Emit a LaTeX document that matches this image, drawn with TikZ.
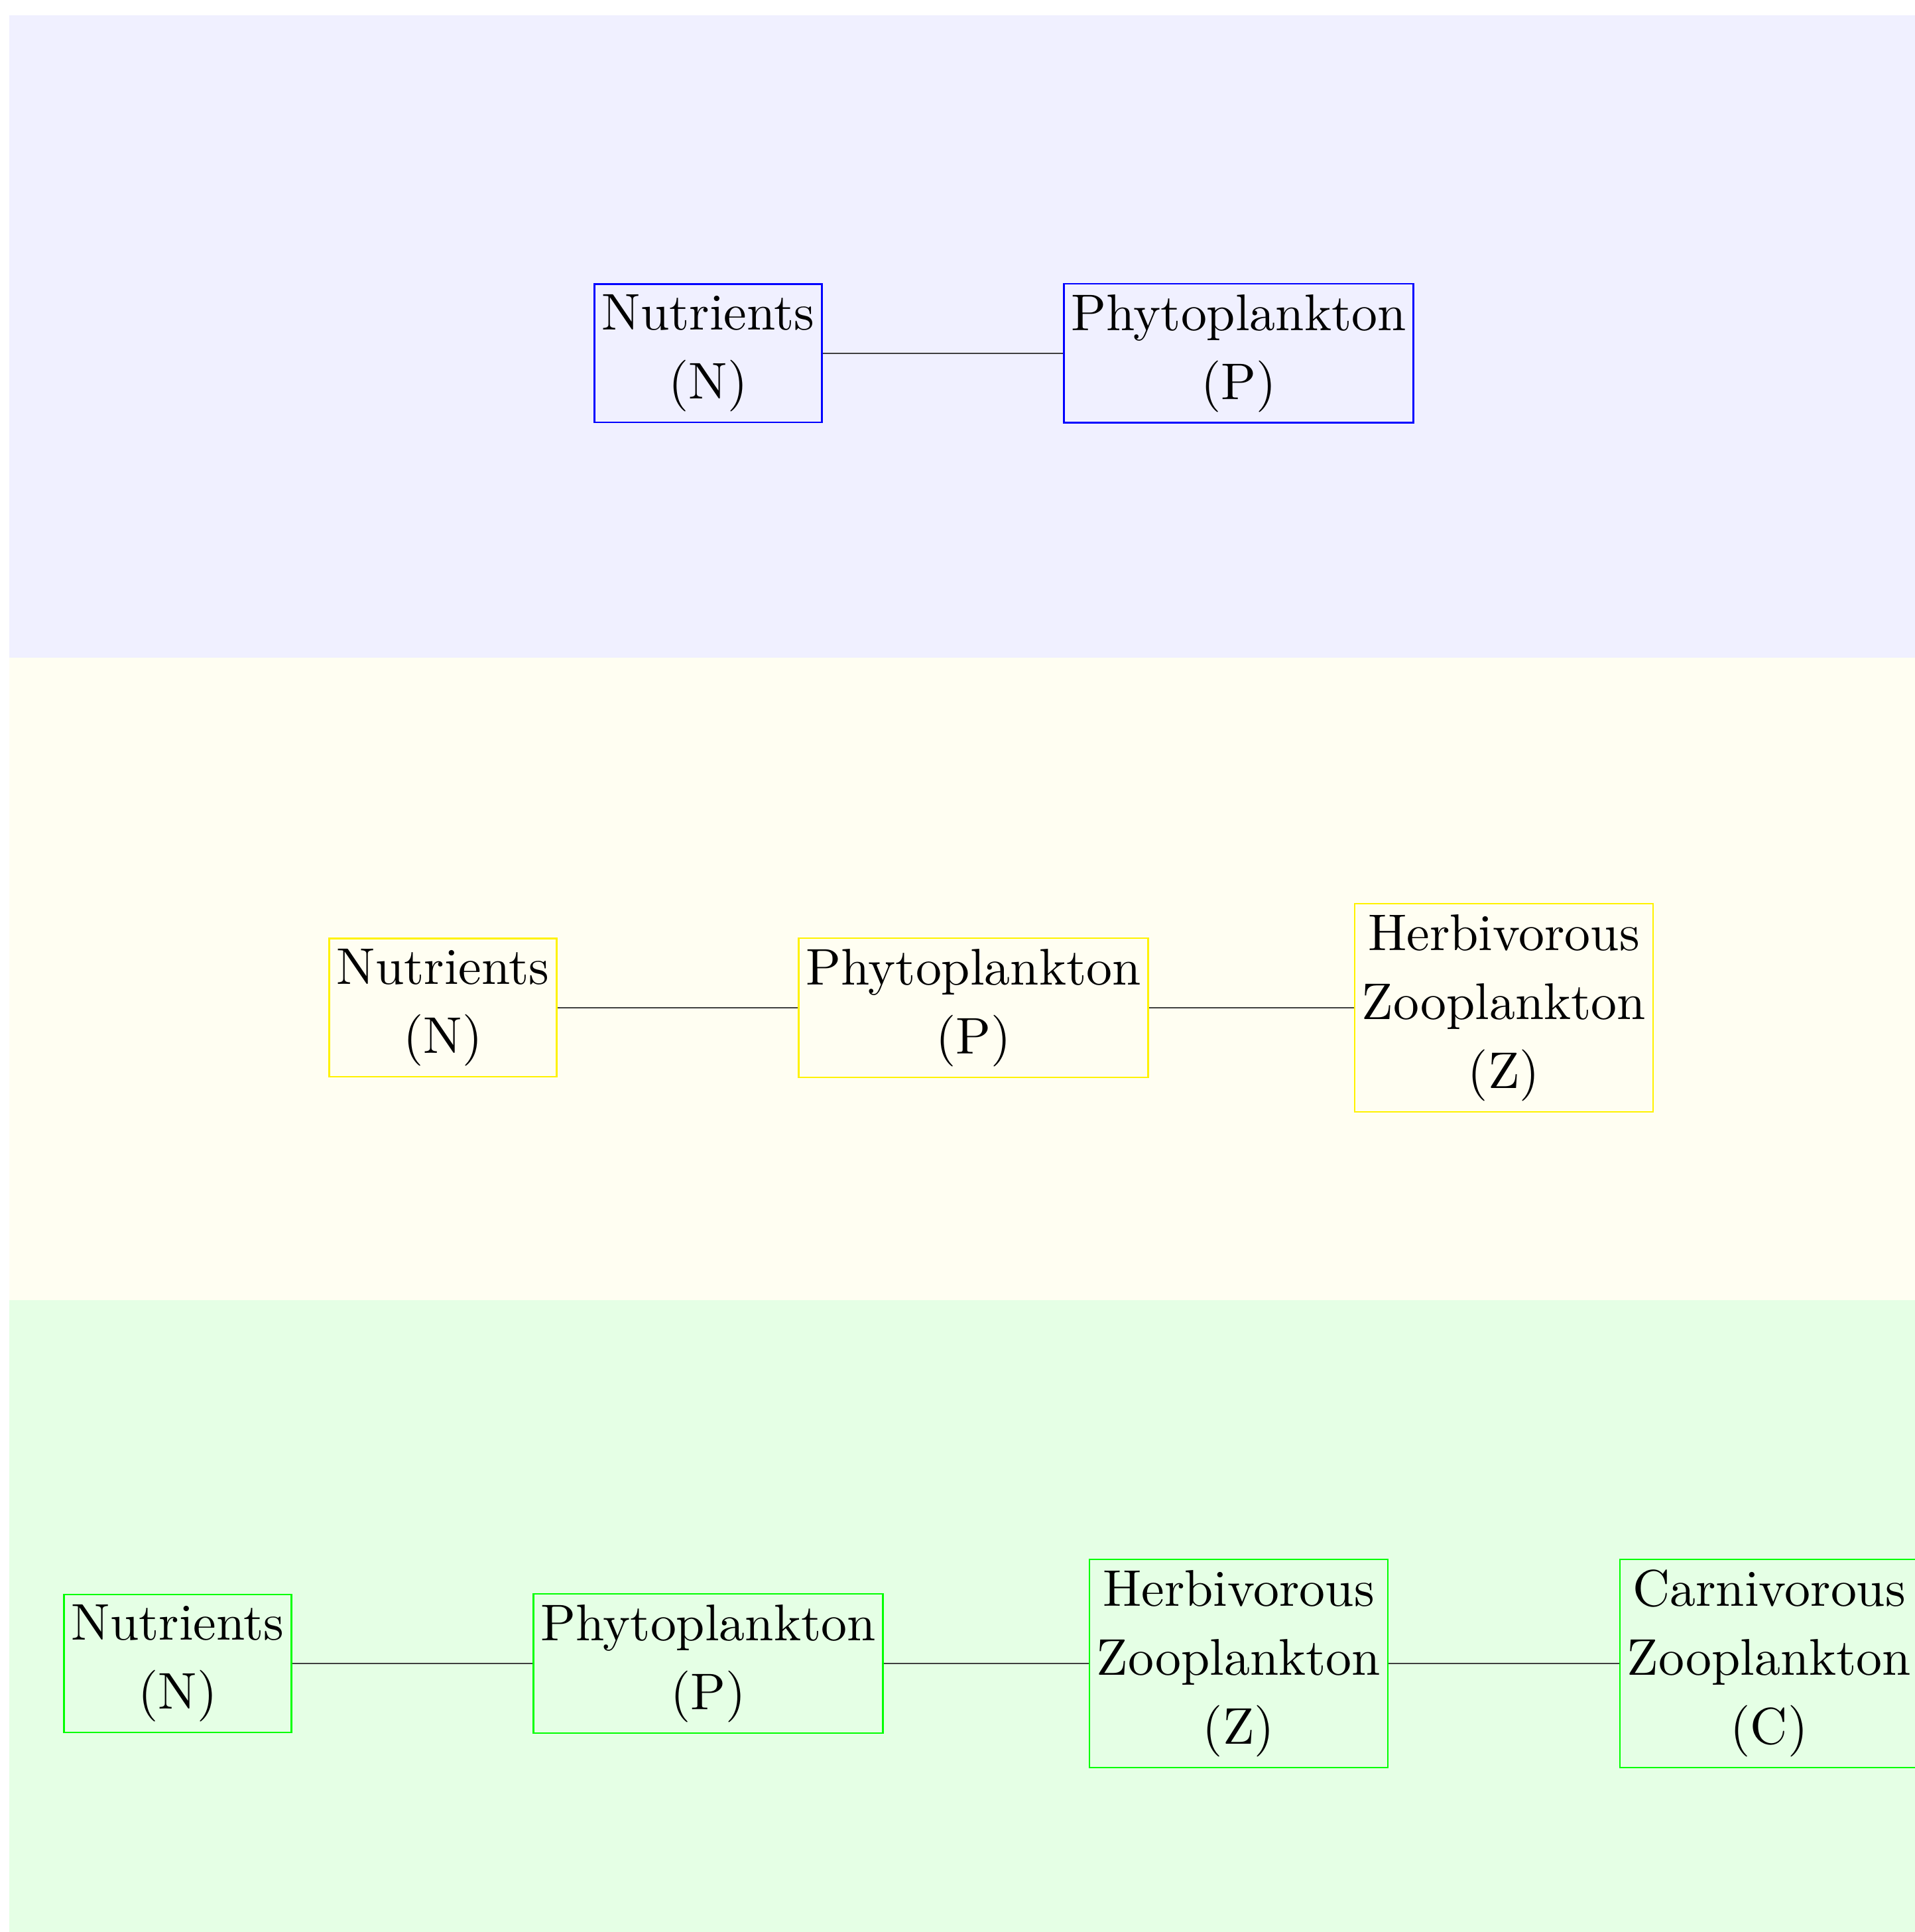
\documentclass[tikz,border=0pt]{standalone}
\usepackage{fontspec}
\setmainfont{lmroman10-regular.otf}
\begin{document}
\begin{tikzpicture}[x=1pt,y=1pt,
  boxN/.style={draw=#1, line width=0.6pt, align=center,
    font=\fontsize{19.45}{26}\selectfont, inner xsep=2.8pt, inner ysep=4pt},
  link/.style={line width=0.35pt, draw=black!75}]
\useasboundingbox (0,0) rectangle (722,728.5);
\clip (0,0) rectangle (722,728.5);
% bands
\fill[blue!6]   (3.5,722.75) rectangle (730,480.5);
\fill[yellow!5] (3.5,480.5)  rectangle (730,238.25);
\fill[green!10] (3.5,238.25) rectangle (730,-10);
% row 1
\node[boxN=blue] (n1) at (267,595.25) {Nutrients\\(N)};
\node[boxN=blue] (p1) at (467,595.25) {Phytoplankton\\(P)};
\draw[link] (n1) -- (p1);
% row 2
\node[boxN=yellow] (n2) at (167,348.5) {Nutrients\\(N)};
\node[boxN=yellow] (p2) at (367,348.5) {Phytoplankton\\(P)};
\node[boxN=yellow] (z2) at (567,348.5) {Herbivorous\\Zooplankton\\(Z)};
\draw[link] (n2) -- (p2);
\draw[link] (p2) -- (z2);
% row 3
\node[boxN=green] (n3) at (67,101.25) {Nutrients\\(N)};
\node[boxN=green] (p3) at (267,101.25) {Phytoplankton\\(P)};
\node[boxN=green] (z3) at (467,101.25) {Herbivorous\\Zooplankton\\(Z)};
\node[boxN=green] (c3) at (667,101.25) {Carnivorous\\Zooplankton\\(C)};
\draw[link] (n3) -- (p3);
\draw[link] (p3) -- (z3);
\draw[link] (z3) -- (c3);
\end{tikzpicture}
\end{document}
